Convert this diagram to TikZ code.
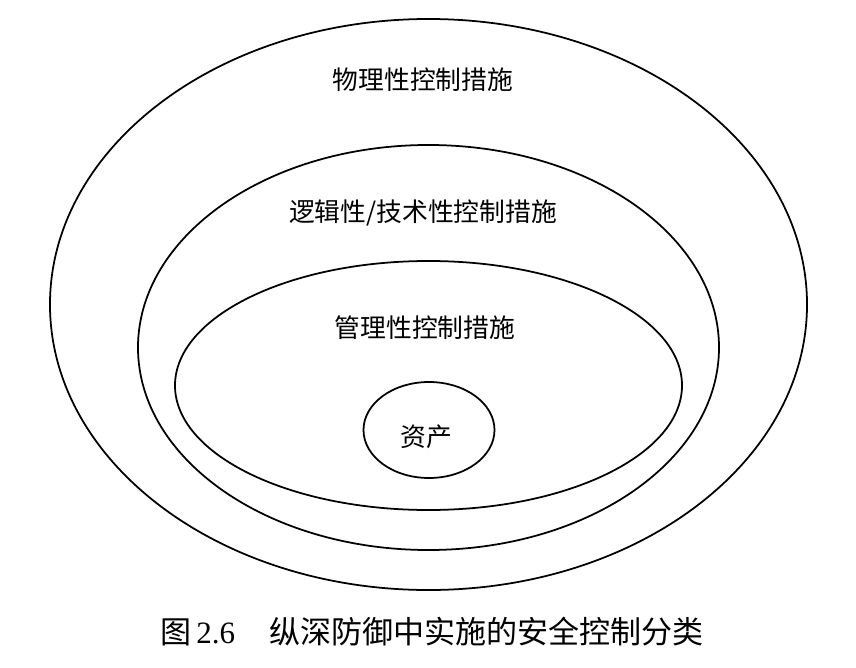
\documentclass[tikz,border=0pt]{standalone}
\usepackage{fontspec}
\usepackage{tikz}
\usetikzlibrary{positioning}
\usetikzlibrary{shapes.geometric}
\newfontfamily\cjk{Noto Sans CJK SC}
\newfontfamily\capserif{Liberation Serif}
\tikzstyle{ring} = [ellipse, draw=black, line width=1.5pt, inner sep=0pt]
\tikzstyle{lbl} = [font=\cjk\fontsize{22}{26}\selectfont, inner sep=0pt]
\begin{document}
\begin{tikzpicture}[x=0.03cm,y=-0.03cm]
      \useasboundingbox (0,0) rectangle (856,668);
      %%%%%%%%%%%%%%%%%%%%%%%%%%%%%%%%%%%%%%%
      \node (phys) at (428.5,304.5) [ring, minimum width=22.71cm, minimum height=17.13cm] {};
      \node (logic) at (428.5,347.5) [ring, minimum width=17.43cm, minimum height=12.15cm] {};
      \node (admin) at (428.5,385.5) [ring, minimum width=15.21cm, minimum height=7.47cm] {};
      \node (asset) at (429,430) [ring, minimum width=3.93cm, minimum height=2.88cm] {};
      %%%%%%%%%%%%%%%%%%%%%%%%%%%%%%%%%%%%%%%
      \node (physlbl) at (423,80) [lbl] {物理性控制措施};
      \node (logiclbl) at (423,213) [lbl] {逻辑性/技术性控制措施};
      \node (adminlbl) at (425,328) [lbl] {管理性控制措施};
      \node (assetlbl) at (426,437) [lbl] {资产};
      \node (caption) at (432,632) [inner sep=0pt, font=\fontsize{26.5}{30}\selectfont]
            {{\cjk 图}\,{\capserif 2.6}\hspace{1.1em}{\cjk 纵深防御中实施的安全控制分类}};
      \end{tikzpicture}
\end{document}
